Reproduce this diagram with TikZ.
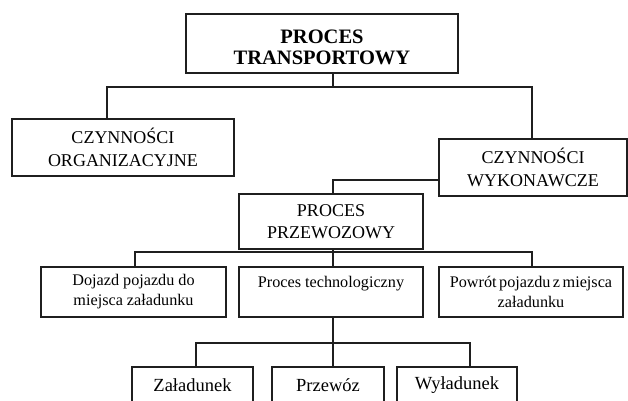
\documentclass[tikz,border=0pt]{standalone}
\usepackage{fontspec}
\setmainfont{Liberation Serif}
\begin{document}
\begin{tikzpicture}[x=1pt,y=-1pt,
  box/.style={draw=black!88, line width=1.1pt, rectangle, inner sep=0pt, align=center, text=black},
  big/.style={font=\fontsize{20.5}{21}\selectfont\bfseries},
  mid/.style={font=\fontsize{18}{22.5}\selectfont},
  small/.style={font=\fontsize{16.2}{20}\selectfont},
  low/.style={font=\fontsize{18.5}{22}\selectfont},
  conn/.style={draw=black!88, line width=1.1pt}]
\useasboundingbox (0,0) rectangle (628,400);
% boxes
\node[box,big,minimum width=272pt,minimum height=59pt] (top) at (322,43.5) {\rule{0pt}{21.6pt}PROCES\\TRANSPORTOWY};
\node[box,mid,minimum width=222pt,minimum height=57pt] (org) at (123,147.5) {CZYNNOŚCI\\ORGANIZACYJNE};
\node[box,mid,minimum width=188pt,minimum height=57pt] (wyk) at (533,167.5) {CZYNNOŚCI\\WYKONAWCZE};
\node[box,mid,minimum width=184pt,minimum height=55pt] (przew) at (331,221.5) {PROCES\\PRZEWOZOWY};
\node[box,small,minimum width=185pt,minimum height=50pt] (doj) at (133.5,292) {Dojazd pojazdu do\\miejsca załadunku};
\node[box,small,minimum width=184pt,minimum height=50pt] (tech) at (331,292) {Proces technologiczny\\\rule{0pt}{0pt}};
\node[box,small,minimum width=184pt,minimum height=50pt] (pow) at (531,292) {\spaceskip=2.5pt plus 1pt minus 1pt Powrót pojazdu z miejsca\\załadunku};
\node[box,low,minimum width=121pt,minimum height=36pt] (zal) at (192.5,385) {Załadunek};
\node[box,low,minimum width=112pt,minimum height=36pt] (prz) at (328,385) {Przewóz};
\node[box,low,minimum width=120pt,minimum height=36pt] (wyl) at (457,385) {Wyładunek};
% junction coordinates
\coordinate (j1) at (333,87);
\coordinate (a1) at (107,87);
\coordinate (a2) at (532,87);
\coordinate (w1) at (333,180);
\coordinate (j2) at (333,252);
\coordinate (b1) at (135,252);
\coordinate (b2) at (532,252);
\coordinate (j3) at (333,343);
\coordinate (c1) at (196,343);
\coordinate (c2) at (470,343);
% connectors
\draw[conn] (top.south -| j1) -- (j1);
\draw[conn] (org.north -| a1) -- (a1) -- (a2) -- (wyk.north -| a2);
\draw[conn] (wyk.west |- w1) -- (w1) -- (przew.north -| w1);
\draw[conn] (przew.south -| j2) -- (j2);
\draw[conn] (doj.north -| b1) -- (b1) -- (b2) -- (pow.north -| b2);
\draw[conn] (j2) -- (tech.north -| j2);
\draw[conn] (tech.south -| j3) -- (j3);
\draw[conn] (zal.north -| c1) -- (c1) -- (c2) -- (wyl.north -| c2);
\draw[conn] (j3) -- (prz.north -| j3);
\end{tikzpicture}
\end{document}
